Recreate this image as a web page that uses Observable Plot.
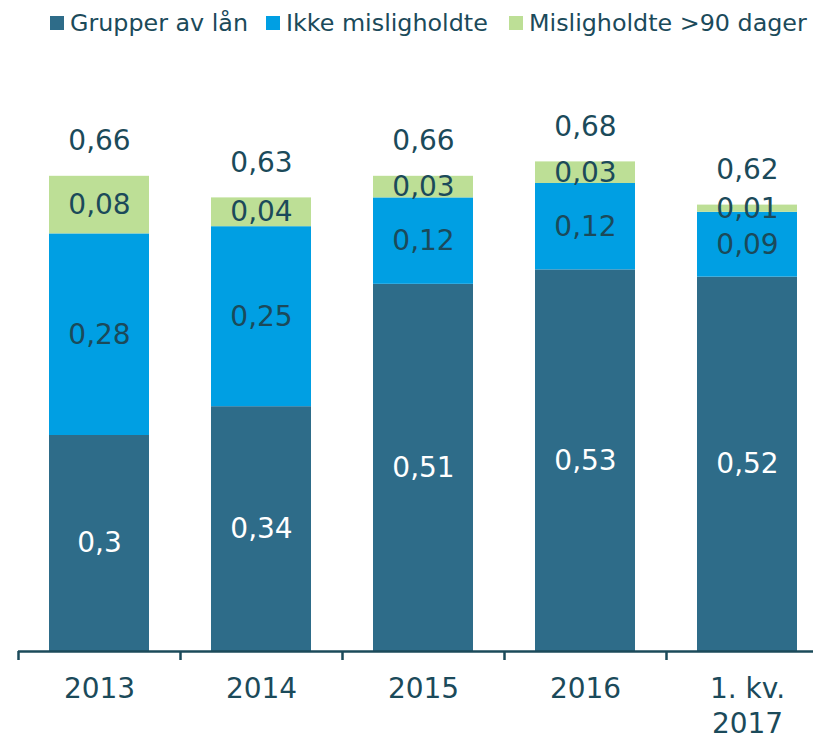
<!DOCTYPE html>
<html>
<head>
<meta charset="utf-8">
<script src="https://cdn.jsdelivr.net/npm/d3@7"></script>
<script src="https://cdn.jsdelivr.net/npm/@observablehq/plot@0.6"></script>
<style>
  html, body { margin: 0; padding: 0; background: #fff; }
  #wrap { position: relative; width: 813px; height: 740px; overflow: hidden; }
  #legend { position: absolute; top: 9px; left: 0; width: 813px; height: 30px;
    font-family: "DejaVu Sans", Verdana, sans-serif; font-size: 23.8px; color: #1B4A5A; white-space: nowrap; }
  .item { position: absolute; top: 0; display: flex; align-items: center; }
  .sw { width: 14px; height: 14px; margin-right: 6px; }
  #chart { position: absolute; top: 0; left: 0; }
</style>
</head>
<body>
<div id="wrap">
  <div id="chart"></div>
  <div id="legend"></div>
</div>
<script>
const categories = ["2013", "2014", "2015", "2016", "1. kv.\n2017"];
const seriesNames = ["Grupper av lån", "Ikke misligholdte", "Misligholdte >90 dager"];
const grupper = [0.30, 0.34, 0.51, 0.53, 0.52];
const ikkeMislig = [0.28, 0.25, 0.12, 0.12, 0.09];
const mislig = [0.08, 0.04, 0.03, 0.03, 0.01];
const totals = [0.66, 0.63, 0.66, 0.68, 0.62];
const colors = ["#2E6C89", "#009FE3", "#BDDF96"];
const legendLeft = [50, 266, 509];
const textDark = "#1B4A5A";

const seriesValues = [grupper, ikkeMislig, mislig];
const rows = [];
categories.forEach((c, i) => {
  seriesNames.forEach((s, j) => rows.push({cat: c, series: s, value: seriesValues[j][i], idx: j}));
});
const totalRows = categories.map((c, i) => ({cat: c, total: totals[i], top: grupper[i] + ikkeMislig[i] + mislig[i]}));
const fmt = v => String(+v.toFixed(2)).replace(".", ",");

const font = "DejaVu Sans, Verdana, sans-serif";

const chart = Plot.plot({
  width: 813,
  height: 740,
  marginLeft: 18,
  marginRight: 0,
  marginTop: 3,
  marginBottom: 89,
  style: {fontFamily: font, background: "transparent"},
  x: {domain: categories, range: [18, 828], paddingInner: 0.38, paddingOuter: 0.19, label: null},
  y: {domain: [0, 0.9], axis: null},
  color: {domain: seriesNames, range: colors},
  marks: [
    Plot.barY(rows, Plot.stackY({x: "cat", y: "value", z: "series", fill: "series", order: null})),
    Plot.text(rows, Plot.stackY({x: "cat", y: "value", z: "series", order: null,
      text: d => fmt(d.value),
      fill: d => d.idx === 0 ? "#ffffff" : textDark,
      fontSize: 28})),
    Plot.text(totalRows, {x: "cat", y: "top", text: d => fmt(d.total), dy: -35, fill: textDark, fontSize: 28}),
    Plot.ruleY([0], {stroke: "#1B4A5A", strokeWidth: 2.5}),
    Plot.axisX({tickSize: 9, text: null, dx: -81, stroke: "#1B4A5A", strokeWidth: 2.5, tickPadding: 0}),
    Plot.axisX({tickSize: 0, tickPadding: 21, fontSize: 28, lineHeight: 1.27, fill: textDark, label: null})
  ]
});
document.getElementById("chart").appendChild(chart);

const legend = document.getElementById("legend");
seriesNames.forEach((s, j) => {
  const it = document.createElement("div");
  it.className = "item";
  it.style.left = legendLeft[j] + "px";
  const sw = document.createElement("span");
  sw.className = "sw";
  sw.style.background = colors[j];
  const t = document.createElement("span");
  t.textContent = s;
  it.appendChild(sw); it.appendChild(t);
  legend.appendChild(it);
});
</script>
</body>
</html>
